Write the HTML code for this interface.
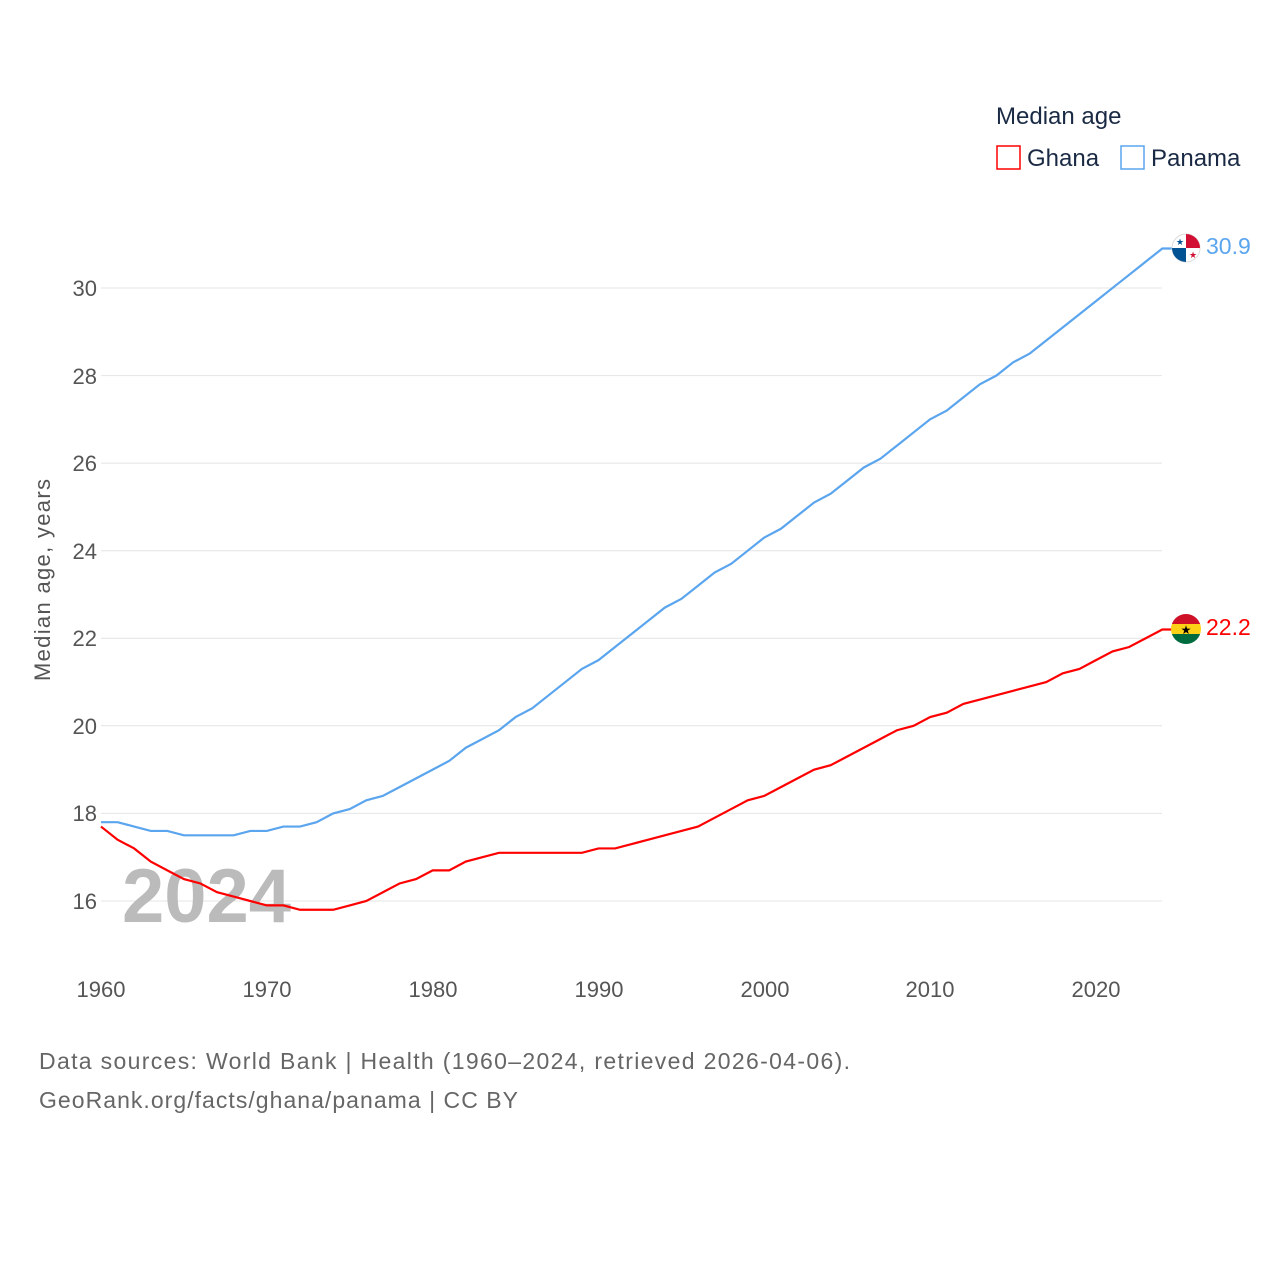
<!DOCTYPE html>
<html><head><meta charset="utf-8"><style>
body{margin:0;background:#fff;}
svg text{font-family:"Liberation Sans",sans-serif;}
</style></head><body>
<svg width="1280" height="1280" viewBox="0 0 1280 1280" xmlns="http://www.w3.org/2000/svg">
<rect width="1280" height="1280" fill="#fff"/>
<g stroke="#e4e4e4" stroke-width="1">
<line x1="101" x2="1162" y1="901" y2="901"/>
<line x1="101" x2="1162" y1="813.4" y2="813.4"/>
<line x1="101" x2="1162" y1="725.8" y2="725.8"/>
<line x1="101" x2="1162" y1="638.3" y2="638.3"/>
<line x1="101" x2="1162" y1="550.7" y2="550.7"/>
<line x1="101" x2="1162" y1="463.1" y2="463.1"/>
<line x1="101" x2="1162" y1="375.6" y2="375.6"/>
<line x1="101" x2="1162" y1="288" y2="288"/>
</g>
<g fill="#555" font-size="22" text-anchor="end">
<text x="97" y="909">16</text><text x="97" y="821">18</text><text x="97" y="734">20</text>
<text x="97" y="646">22</text><text x="97" y="559">24</text><text x="97" y="471">26</text>
<text x="97" y="384">28</text><text x="97" y="296">30</text>
</g>
<g fill="#555" font-size="22" text-anchor="middle">
<text x="101" y="997">1960</text><text x="267" y="997">1970</text><text x="433" y="997">1980</text>
<text x="599" y="997">1990</text><text x="765" y="997">2000</text><text x="930" y="997">2010</text><text x="1096" y="997">2020</text>
</g>
<text transform="translate(50,580) rotate(-90)" fill="#555" font-size="22" text-anchor="middle" textLength="202">Median age, years</text>
<text x="122" y="922" fill="#bbb" font-size="76" font-weight="bold">2024</text>
<g transform="translate(101,901) scale(16.583,-43.79)" fill="none" stroke-width="2.2">
<polyline vector-effect="non-scaling-stroke" stroke="#5aa5ee" points="0,1.8 1,1.8 2,1.7 3,1.6 4,1.6 5,1.5 6,1.5 7,1.5 8,1.5 9,1.6 10,1.6 11,1.7 12,1.7 13,1.8 14,2.0 15,2.1 16,2.3 17,2.4 18,2.6 19,2.8 20,3.0 21,3.2 22,3.5 23,3.7 24,3.9 25,4.2 26,4.4 27,4.7 28,5.0 29,5.3 30,5.5 31,5.8 32,6.1 33,6.4 34,6.7 35,6.9 36,7.2 37,7.5 38,7.7 39,8.0 40,8.3 41,8.5 42,8.8 43,9.1 44,9.3 45,9.6 46,9.9 47,10.1 48,10.4 49,10.7 50,11.0 51,11.2 52,11.5 53,11.8 54,12.0 55,12.3 56,12.5 57,12.8 58,13.1 59,13.4 60,13.7 61,14.0 62,14.3 63,14.6 64,14.9 65,14.9"/>
<polyline vector-effect="non-scaling-stroke" stroke="#f00" points="0,1.7 1,1.4 2,1.2 3,0.9 4,0.7 5,0.5 6,0.4 7,0.2 8,0.1 9,0.0 10,-0.1 11,-0.1 12,-0.2 13,-0.2 14,-0.2 15,-0.1 16,0.0 17,0.2 18,0.4 19,0.5 20,0.7 21,0.7 22,0.9 23,1.0 24,1.1 25,1.1 26,1.1 27,1.1 28,1.1 29,1.1 30,1.2 31,1.2 32,1.3 33,1.4 34,1.5 35,1.6 36,1.7 37,1.9 38,2.1 39,2.3 40,2.4 41,2.6 42,2.8 43,3.0 44,3.1 45,3.3 46,3.5 47,3.7 48,3.9 49,4.0 50,4.2 51,4.3 52,4.5 53,4.6 54,4.7 55,4.8 56,4.9 57,5.0 58,5.2 59,5.3 60,5.5 61,5.7 62,5.8 63,6.0 64,6.2 65,6.2"/>
</g>
<circle cx="1186" cy="248" r="14" fill="#fff" stroke="#ddd"/>
<path d="M1186,234 A14,14 0 0 1 1200,248 L1186,248Z" fill="#d21034"/>
<path d="M1186,262 A14,14 0 0 1 1172,248 L1186,248Z" fill="#005293"/>
<text x="1180" y="245" font-size="9" fill="#005293" text-anchor="middle">★</text>
<text x="1193" y="258" font-size="9" fill="#d21034" text-anchor="middle">★</text>
<text x="1206" y="254" fill="#5aa5ee" font-size="23">30.9</text>
<clipPath id="gc"><circle cx="1186" cy="629" r="15"/></clipPath>
<g clip-path="url(#gc)"><rect x="1170" y="614" width="32" height="10" fill="#ce1126"/><rect x="1170" y="624" width="32" height="10" fill="#fcd116"/><rect x="1170" y="634" width="32" height="11" fill="#006b3f"/></g>
<text x="1186" y="634" font-size="12" fill="#000" text-anchor="middle">★</text>
<text x="1206" y="635" fill="#f00" font-size="23">22.2</text>
<text x="996" y="124" fill="#1a2a44" font-size="24">Median age</text>
<rect x="997" y="146" width="23" height="23" fill="none" stroke="#f00" stroke-width="1.5"/>
<text x="1027" y="166" fill="#1a2a44" font-size="24">Ghana</text>
<rect x="1121" y="146" width="23" height="23" fill="none" stroke="#5aa5ee" stroke-width="1.5"/>
<text x="1151" y="166" fill="#1a2a44" font-size="24">Panama</text>
<text x="39" y="1069" fill="#666" font-size="23" textLength="811">Data sources: World Bank | Health (1960–2024, retrieved 2026-04-06).</text>
<text x="39" y="1108" fill="#666" font-size="23" textLength="479">GeoRank.org/facts/ghana/panama | CC BY</text>
</svg>
</body></html>
